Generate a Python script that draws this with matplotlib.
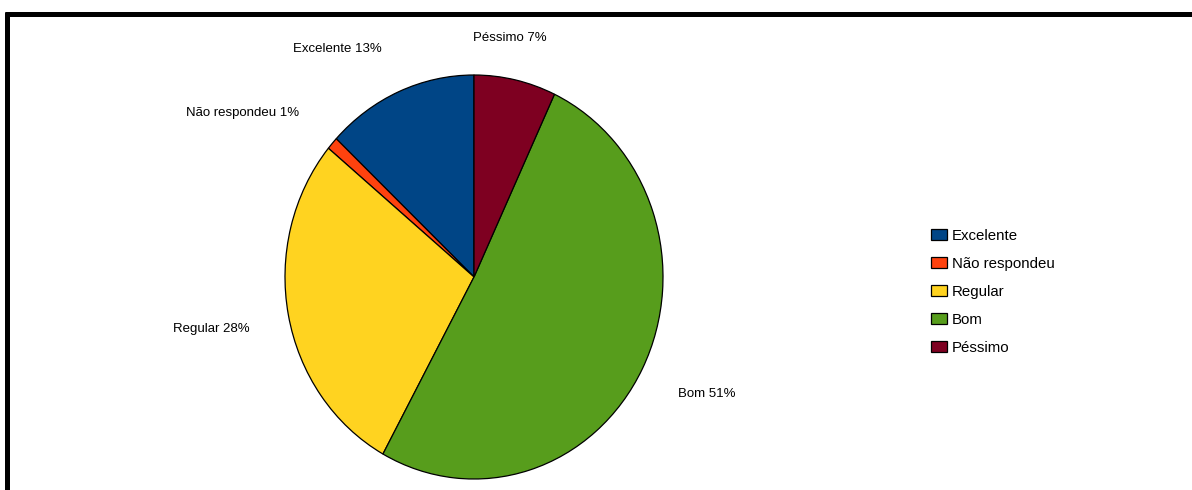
import numpy as np
import matplotlib
matplotlib.use('Agg')
import matplotlib.pyplot as plt
from matplotlib.lines import Line2D
from matplotlib.patches import Patch

plt.rcParams['font.family'] = ['Liberation Sans', 'DejaVu Sans']

# respostas da avaliação
categorias = ['Excelente', 'Não respondeu', 'Regular', 'Bom', 'Péssimo']
percentuais = [13, 1, 28, 51, 7]
cores = ['#004586', '#ff420e', '#ffd320', '#579d1c', '#7e0021']

W, H = 1192, 490
fig = plt.figure(figsize=(W / 100, H / 100), dpi=100)

# eixo da pizza em pixels (levemente oval)
cx, cy, rx, ry = 474, 277, 189, 202
ax = fig.add_axes([(cx - rx) / W, (H - cy - ry) / H, 2 * rx / W, 2 * ry / H])
wedges, _ = ax.pie(percentuais, colors=cores, startangle=90, counterclock=True,
                   wedgeprops=dict(edgecolor='black', linewidth=0.9))
ax.set_aspect('auto')
ax.set_xlim(-1, 1)
ax.set_ylim(-1, 1)
for w in wedges:
    w.set_clip_on(False)

# rótulos com o percentual, fora da pizza
for w, nome, pct in zip(wedges, categorias, percentuais):
    ang = np.deg2rad((w.theta1 + w.theta2) / 2)
    c, s = np.cos(ang), np.sin(ang)
    centrado = abs(c) < 0.3
    r = 1.23 if (s > 0 and not centrado) else 1.21
    if centrado:
        ha = 'center'
        c -= 0.06
    elif c < 0:
        ha = 'right'
    else:
        ha = 'left'
    va = 'top' if s < 0 else 'center'
    ax.text(r * c, r * s, f'{nome} {pct}%', ha=ha, va=va, fontsize=9.5)

# legenda
handles = [Patch(facecolor=cor, edgecolor='black', linewidth=0.9) for cor in cores]
fig.legend(handles, categorias, loc='upper left', bbox_to_anchor=(931 / W, 1 - 228.5 / H),
           frameon=False, fontsize=10.8, handlelength=1.05, handleheight=0.75,
           handletextpad=0.33, labelspacing=0.94, borderpad=0, borderaxespad=0)

# moldura preta (superior e esquerda)
fig.add_artist(Line2D([5 / W, 1], [1 - 14.5 / H] * 2, color='black', lw=3.6,
                      transform=fig.transFigure, solid_capstyle='butt'))
fig.add_artist(Line2D([7.5 / W] * 2, [0, 1 - 12 / H], color='black', lw=3.6,
                      transform=fig.transFigure, solid_capstyle='butt'))

fig.savefig('out.png', dpi=100)
